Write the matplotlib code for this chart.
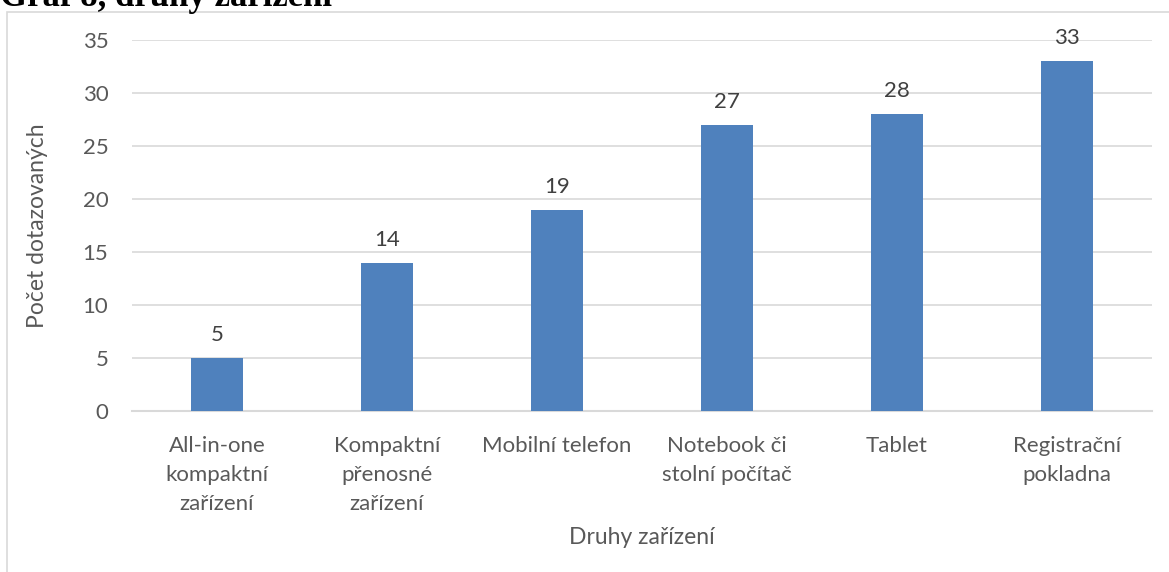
import matplotlib
matplotlib.use("Agg")
import matplotlib.pyplot as plt
from matplotlib.patches import Rectangle

categories = ["All-in-one\nkompaktní\nzařízení", "Kompaktní\npřenosné\nzařízení", "Mobilní telefon",
              "Notebook či\nstolní počítač", "Tablet", "Registrační\npokladna"]
values = [5, 14, 19, 27, 28, 33]
yticks = [0, 5, 10, 15, 20, 25, 30, 35]
title = "Graf 8, druhy zařízení"
ylabel = "Počet dotazovaných"
xlabel = "Druhy zařízení"

plt.rcParams['font.family'] = ['Lato', 'DejaVu Sans']
txt = "#595959"

fig = plt.figure(figsize=(11.69, 5.72), dpi=100)
fig.patches.append(Rectangle((7/1169, -0.1), 1.2, 1.1 - 12/572, transform=fig.transFigure,
                             fill=False, edgecolor="#d9d9d9", linewidth=1.2))
ax = fig.add_axes([132/1169, 1 - 411/572, 1020/1169, 371/572])
x = list(range(len(categories)))
bars = ax.bar(x, values, width=0.31, color="#4f81bd", zorder=3)
for xi, v in zip(x, values):
    ax.text(xi, v + 1.2, str(v), ha="center", va="bottom", fontsize=16, color="#404040")
ax.set_xlim(-0.5, len(categories) - 0.5)
ax.set_ylim(0, 35)
ax.set_yticks(yticks)
ax.set_xticks(x)
ax.set_xticklabels(categories, fontsize=16, color=txt, linespacing=1.55)
ax.tick_params(axis="y", labelsize=16, labelcolor=txt, length=0, pad=17)
ax.tick_params(axis="x", length=0, pad=18)
ax.grid(axis="y", color="#d9d9d9", linewidth=1.2, zorder=0)
for s in ["top", "right", "left"]:
    ax.spines[s].set_visible(False)
ax.spines["bottom"].set_color("#d9d9d9")
ax.spines["bottom"].set_linewidth(1.5)
ax.set_ylabel(ylabel, fontsize=16.5, color=txt, labelpad=25)
ax.set_xlabel(xlabel, fontsize=16.5, color=txt, labelpad=10)
fig.text(0.0, 1 - 6/572, title, fontsize=25, fontweight="bold",
         family=["Liberation Serif", "DejaVu Serif"], va="baseline", ha="left")
fig.savefig("out.png", dpi=100)
